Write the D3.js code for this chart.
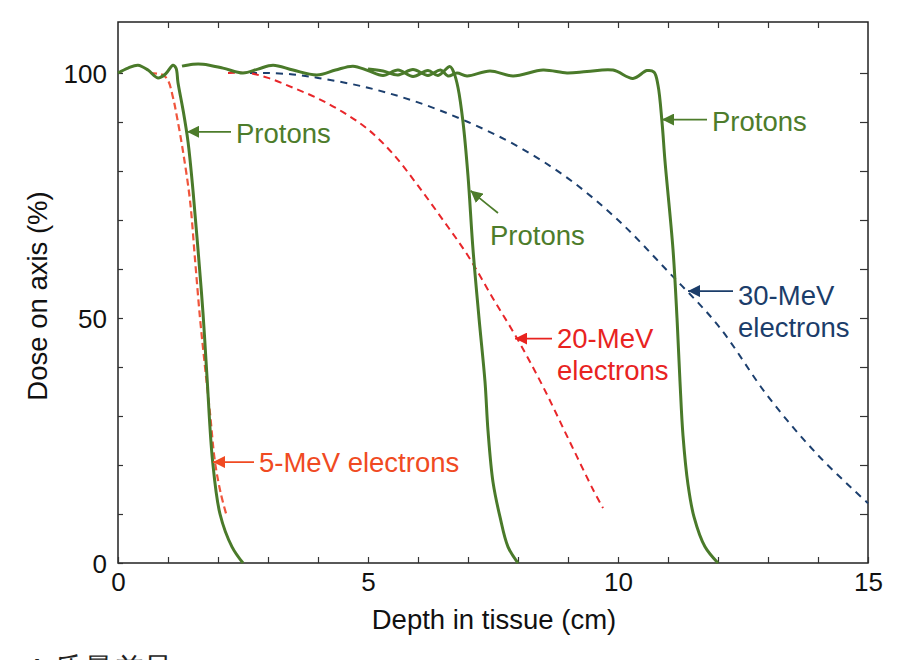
<!DOCTYPE html>
<html><head><meta charset="utf-8">
<script src="https://cdn.jsdelivr.net/npm/d3@7"></script>
<style>body{margin:0;background:#fff}svg{display:block}text{font-family:Arial,"Liberation Sans",sans-serif}</style>
</head><body><svg id="c" width="908" height="660"></svg>
<script>
const xTicksMajor = [0, 5, 10, 15];
const yTicksMajor = [0, 50, 100];
const proton1 = [[0,100],[0.2,101],[0.4,101.6],[0.6,100.6],[0.8,99],[0.95,99.8],[1.1,101.6],[1.16,101],[1.2,98],[1.3,92.5],[1.4,86],[1.5,76],[1.6,64],[1.7,51],[1.78,38],[1.89,21],[2.04,10],[2.28,3.3],[2.5,0]];
const proton2 = [[1.28,101.4],[1.5,101.8],[1.7,101.8],[2.1,101],[2.5,100],[2.8,100.8],[3.1,101.6],[3.5,100.6],[3.98,99.6],[4.35,100.6],[4.7,101.4],[5.0,100.5],[5.3,99.5],[5.6,100.6],[5.9,99.3],[6.2,100.5],[6.4,99.5],[6.64,101.3],[6.72,100],[6.8,97],[6.9,90],[7.0,79],[7.1,64],[7.22,50],[7.34,37],[7.4,27],[7.5,16.5],[7.64,9.4],[7.8,3.3],[8.0,0]];
const proton3 = [[5.0,100.8],[5.3,100.4],[5.6,99.6],[5.9,100.7],[6.2,99.5],[6.45,100.6],[6.6,99.4],[6.78,100],[6.98,99.4],[7.44,100.4],[7.9,99.4],[8.5,100.6],[8.98,100],[9.38,100.3],[9.9,100.6],[10.3,98.9],[10.58,100.5],[10.72,100.2],[10.8,97.5],[10.88,90],[10.94,82],[11.1,64],[11.18,50],[11.24,37],[11.3,26],[11.4,16],[11.52,9.4],[11.74,3.3],[12.0,0]];
const e5 = [[0.64,100],[0.9,99.6],[1.0,98.5],[1.1,95],[1.18,91],[1.3,84],[1.44,74],[1.54,62],[1.64,50],[1.74,40],[1.84,30.6],[1.94,20.6],[2.06,14],[2.18,9.4]];
const e20 = [[2.2,100],[2.6,100],[3.0,99],[3.5,97],[4.0,94.8],[4.5,92],[5.0,88.5],[5.5,83.5],[6.0,77],[6.5,70],[7.0,62.7],[7.5,54],[8.0,45.5],[8.5,36],[9.0,25.5],[9.5,15],[9.7,11.2]];
const e30 = [[2.64,100],[3.0,100],[3.5,99.7],[4.0,99],[5.0,97],[6.0,94],[7.0,90],[8.0,85],[9.0,78.5],[10.0,70],[11.0,59.5],[12.0,48.5],[13.0,34],[14.0,22],[15.0,12.2]];
const annotations = [
  {lines:["Protons"], tip:[1.38,88], color:"#4d7c2b"},
  {lines:["Protons"], tip:[7.05,76], color:"#4d7c2b", curved:true},
  {lines:["Protons"], tip:[10.88,90.5], color:"#4d7c2b"},
  {lines:["30-MeV","electrons"], tip:[11.4,55.5], color:"#1b3d6a"},
  {lines:["20-MeV","electrons"], tip:[7.94,45.8], color:"#e8231f"},
  {lines:["5-MeV electrons"], tip:[1.9,20.6], color:"#f04a22"}
];
const textPos = [[236,133],[490,235],[712,121],[738,295],[557,338],[259,462]];

const svg = d3.select("#c");
const L=118,R=868,T=22,B=563;
const FS=27.5;
const x = d3.scaleLinear().domain([0,15]).range([L,R]);
const y = d3.scaleLinear().domain([0,100]).range([B,B-490]);

svg.append("defs").selectAll("marker").data(annotations).join("marker")
  .attr("id",(d,i)=>"ah"+i).attr("viewBox","0 0 10 10").attr("refX",10).attr("refY",5)
  .attr("markerWidth",12).attr("markerHeight",12).attr("markerUnits","userSpaceOnUse").attr("orient","auto")
  .append("path").attr("d","M0,0L10,5L0,10z").attr("fill",d=>d.color);

svg.append("rect").attr("x",L).attr("y",T).attr("width",R-L).attr("height",B-T)
  .attr("fill","none").attr("stroke","#222").attr("stroke-width",1.5);

const xAxis = d3.axisBottom(x).tickValues(d3.range(0,16)).tickSize(-6).tickFormat(d=>xTicksMajor.includes(d)?d:"");
const gx = svg.append("g").attr("transform",`translate(0,${B})`).call(xAxis);
gx.select(".domain").remove();
gx.selectAll("line").attr("stroke","#333").attr("stroke-width",1.2);
gx.selectAll("text").attr("font-size",26).attr("fill","#111").attr("dy","0.95em").attr("y",3);
const gxt = svg.append("g").attr("transform",`translate(0,${T})`).call(d3.axisTop(x).tickValues(d3.range(1,15)).tickSize(-6).tickFormat(""));
gxt.select(".domain").remove(); gxt.selectAll("line").attr("stroke","#333").attr("stroke-width",1.2);

const yAxis = d3.axisLeft(y).tickValues(d3.range(0,101,10)).tickSize(-5).tickFormat(d=>yTicksMajor.includes(d)?d:"");
const gy = svg.append("g").attr("transform",`translate(${L},0)`).call(yAxis);
gy.select(".domain").remove();
gy.selectAll("line").attr("stroke","#333").attr("stroke-width",1.2);
gy.selectAll("text").attr("font-size",26).attr("fill","#111").attr("x",-11).attr("dy","0.36em");
const gyr = svg.append("g").attr("transform",`translate(${R},0)`).call(d3.axisRight(y).tickValues(d3.range(10,101,10)).tickSize(-8).tickFormat(""));
gyr.select(".domain").remove(); gyr.selectAll("line").attr("stroke","#333").attr("stroke-width",1.2);

svg.append("text").attr("x",494).attr("y",629).attr("text-anchor","middle").attr("font-size",FS).attr("fill","#111").text("Depth in tissue (cm)");
svg.append("text").attr("transform","translate(47,296) rotate(-90)").attr("text-anchor","middle").attr("font-size",FS).attr("fill","#111").text("Dose on axis (%)");

const line = d3.line().x(d=>x(d[0])).y(d=>y(d[1])).curve(d3.curveCatmullRom.alpha(0.5));
const g = svg.append("g");
g.append("path").datum(e30).attr("d",line).attr("fill","none").attr("stroke","#1c3f6e").attr("stroke-width",2).attr("stroke-dasharray","7,6");
g.append("path").datum(e20).attr("d",line).attr("fill","none").attr("stroke","#e8262a").attr("stroke-width",2).attr("stroke-dasharray","7,5");
g.append("path").datum(e5).attr("d",line).attr("fill","none").attr("stroke","#f0553c").attr("stroke-width",2.2).attr("stroke-dasharray","7,4");
[proton1,proton2,proton3].forEach(p=>{
  g.append("path").datum(p).attr("d",line).attr("fill","none").attr("stroke","#4a7a2a").attr("stroke-width",3).attr("stroke-linejoin","round");
});

annotations.forEach((a,i)=>{
  const [tx,ty]=textPos[i];
  const tip=[x(a.tip[0]),y(a.tip[1])];
  const lh=32;
  const t = svg.append("text").attr("x",tx).attr("y",ty).attr("font-size",FS).attr("fill",a.color);
  a.lines.forEach((s,j)=>t.append("tspan").attr("x",tx).attr("dy",j===0?"0.35em":lh).text(s));
  let path;
  if(a.curved){
    path=`M${tx+8},${ty-22} Q${tip[0]+12},${tip[1]+10} ${tip[0]},${tip[1]}`;
  } else {
    path=`M${tx-5},${tip[1]} L${tip[0]},${tip[1]}`;
  }
  svg.append("path").attr("d",path).attr("fill","none").attr("stroke",a.color).attr("stroke-width",1.8).attr("marker-end",`url(#ah${i})`);
});

svg.append("text").attr("x",27).attr("y",679).attr("font-size",30).attr("fill","#222").attr("font-family","'Noto Sans CJK SC',Arial,sans-serif").text("A 质量差异");
</script></body></html>
